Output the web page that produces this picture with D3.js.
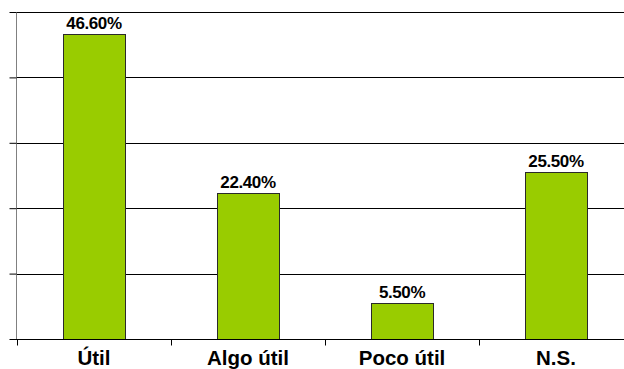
<!DOCTYPE html>
<html>
<head>
<meta charset="utf-8">
<script src="https://cdn.jsdelivr.net/npm/d3@7"></script>
<style>
  html, body { margin: 0; padding: 0; background: #fff; }
  svg { display: block; }
</style>
</head>
<body>
<svg id="chart" width="624" height="369"></svg>
<script>
// Survey answers and their shares (%)
const categories = ["Útil", "Algo útil", "Poco útil", "N.S."];
const values = [46.6, 22.4, 5.5, 25.5];
const valueLabels = ["46.60%", "22.40%", "5.50%", "25.50%"];
const yTicks = [0, 10, 20, 30, 40, 50];

const svg = d3.select("#chart");
const plotLeft = 17, plotRight = 633, plotTop = 12, plotBottom = 339;

const x = d3.scaleBand().domain(categories).range([plotLeft, plotRight]).paddingInner(0).paddingOuter(0);
const y = d3.scaleLinear().domain([0, 50]).range([plotBottom, plotTop]);

// horizontal gridlines
svg.append("g")
  .selectAll("line")
  .data(yTicks.slice(1))
  .join("line")
  .attr("x1", plotLeft).attr("x2", 624)
  .attr("y1", d => Math.round(y(d)) + 0.5)
  .attr("y2", d => Math.round(y(d)) + 0.5)
  .attr("stroke", "#000").attr("stroke-width", 1);

// y axis with outward ticks
const yAxis = svg.append("g")
  .attr("transform", `translate(${plotLeft - 0.5},0)`)
  .call(d3.axisLeft(y).tickValues(yTicks).tickSize(7).tickFormat(""));
yAxis.select(".domain").attr("stroke", "#808080").attr("d", `M0,${plotTop}V${plotBottom}`);
yAxis.selectAll(".tick line").attr("stroke", "#000");

// bars
const bw = x.bandwidth() * 0.4;
svg.append("g")
  .selectAll("rect")
  .data(values)
  .join("rect")
  .attr("x", (d, i) => Math.round(x(categories[i]) + (x.bandwidth() - bw) / 2) + 0.5)
  .attr("width", Math.round(bw))
  .attr("y", d => Math.round(y(d)) + 0.5)
  .attr("height", d => Math.round(y(0)) - Math.round(y(d)))
  .attr("fill", "#99cc00")
  .attr("stroke", "#2a2a2a")
  .attr("stroke-width", 1);

// x axis with ticks below at category boundaries
const xAxis = svg.append("g")
  .attr("transform", `translate(0,${plotBottom + 0.5})`);
xAxis.append("line")
  .attr("x1", 10).attr("x2", 624)
  .attr("stroke", "#000");
xAxis.selectAll("line.tick")
  .data(categories)
  .join("line")
  .attr("class", "tick")
  .attr("x1", d => Math.round(x(d)) + 0.5)
  .attr("x2", d => Math.round(x(d)) + 0.5)
  .attr("y1", 0).attr("y2", 6)
  .attr("stroke", "#000");

// category labels
svg.append("g")
  .selectAll("text")
  .data(categories)
  .join("text")
  .attr("x", d => x(d) + x.bandwidth() / 2)
  .attr("y", 365)
  .attr("text-anchor", "middle")
  .attr("font-family", "Liberation Sans, Arial, sans-serif")
  .attr("font-weight", "bold")
  .attr("font-size", 20.5)
  .attr("fill", "#000")
  .text(d => d);

// value labels above bars
svg.append("g")
  .selectAll("text")
  .data(values)
  .join("text")
  .attr("x", (d, i) => x(categories[i]) + x.bandwidth() / 2)
  .attr("y", d => y(d) - 5)
  .attr("text-anchor", "middle")
  .attr("font-family", "Liberation Sans, Arial, sans-serif")
  .attr("font-weight", "bold")
  .attr("font-size", 17)
  .attr("letter-spacing", -0.4)
  .attr("fill", "#000")
  .text((d, i) => valueLabels[i]);
</script>
</body>
</html>
